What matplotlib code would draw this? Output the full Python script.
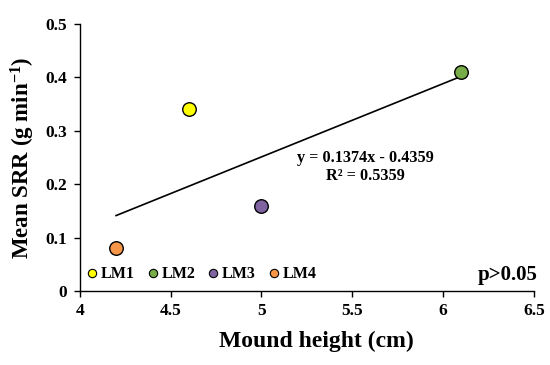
import matplotlib
matplotlib.use("Agg")
import matplotlib.pyplot as plt
import numpy as np
from matplotlib.lines import Line2D

# data
mounds = ["LM1", "LM2", "LM3", "LM4"]
mound_height = [4.6, 6.1, 5.0, 4.2]
mean_srr = [0.34, 0.41, 0.16, 0.08]
colors = ["#ffff00", "#77ac48", "#8064a2", "#f79646"]
slope, intercept = 0.1374, -0.4359
x_ticks = [4, 4.5, 5, 5.5, 6, 6.5]
x_tick_labels = ["4", "4.5", "5", "5.5", "6", "6.5"]
y_ticks = [0, 0.1, 0.2, 0.3, 0.4, 0.5]
y_tick_labels = ["0", "0.1", "0.2", "0.3", "0.4", "0.5"]

plt.rcParams["font.family"] = ["Liberation Serif", "DejaVu Serif"]
plt.rcParams["font.weight"] = "bold"
plt.rcParams["mathtext.fontset"] = "custom"
plt.rcParams["mathtext.rm"] = "Liberation Serif:bold"
plt.rcParams["mathtext.bf"] = "Liberation Serif:bold"
plt.rcParams["mathtext.it"] = "Liberation Serif:bold"

fig = plt.figure(figsize=(5.5, 3.65), dpi=100)
ax = fig.add_axes([0.145, 0.203, 0.826, 0.731])

# trendline over data range
xs = np.array([min(mound_height), max(mound_height)])
ax.plot(xs, slope * xs + intercept, color="black", lw=1.2, zorder=2)

for x, y, c in zip(mound_height, mean_srr, colors):
    ax.scatter(x, y, s=95, color=c, edgecolor="black", linewidth=1.0, zorder=3)

ax.set_xlim(4, 6.5)
ax.set_ylim(0, 0.5)
ax.set_xticks(x_ticks)
ax.set_xticklabels(x_tick_labels)
ax.set_yticks(y_ticks)
ax.set_yticklabels(y_tick_labels)
ax.tick_params(direction="out", length=4, width=1, labelsize=12.5, pad=5)
for lab in ax.get_xticklabels() + ax.get_yticklabels():
    lab.set_fontweight("bold")
ax.spines["top"].set_visible(False)
ax.spines["right"].set_visible(False)
ax.spines["left"].set_linewidth(1)
ax.spines["bottom"].set_linewidth(1)

ax.set_xlabel("Mound height (cm)", fontsize=17, fontweight="bold", labelpad=8, x=0.52)
ax.set_ylabel(r"Mean SRR (g min$^{-1}$)", fontsize=16.5, fontweight="bold", labelpad=6)

ax.text(5.57, 0.249, "y = 0.1374x - 0.4359", ha="center", va="center",
        fontsize=11.7, fontweight="bold")
ax.text(5.57, 0.216, "R² = 0.5359", ha="center", va="center",
        fontsize=11.7, fontweight="bold")
ax.text(1.008, 0.06, "p>0.05", transform=ax.transAxes, ha="right", va="center",
        fontsize=15, fontweight="bold")

handles = [Line2D([], [], ls="none", marker="o", markersize=6, markerfacecolor=c,
                  markeredgecolor="black", markeredgewidth=0.8) for c in colors]
leg = ax.legend(handles, mounds, loc="lower left", bbox_to_anchor=(-0.022, -0.022), ncol=4,
                frameon=False, handletextpad=0.05, columnspacing=0.62, handlelength=1.0,
                prop={"family": "Liberation Serif", "weight": "bold", "size": 11.5})

fig.savefig("out.png", dpi=100)
